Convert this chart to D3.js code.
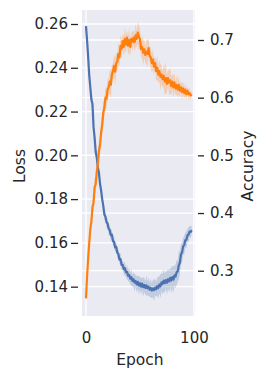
<!DOCTYPE html>
<html>
<head>
<meta charset="utf-8">
<script src="https://cdn.jsdelivr.net/npm/d3@7"></script>
<style>
  body { margin: 0; background: #ffffff; }
  text { font-family: "DejaVu Sans", sans-serif; fill: #262626; }
</style>
</head>
<body>
<div id="chart"></div>
<script>
// mean loss per epoch (0..98)
var loss = [
  0.2590, 0.2525, 0.2450, 0.2365, 0.2310, 0.2255, 0.2235, 0.2130, 0.2080, 0.2015,
  0.1990, 0.1945, 0.1920, 0.1870, 0.1840, 0.1800, 0.1770, 0.1730, 0.1720, 0.1695,
  0.1688, 0.1665, 0.1658, 0.1635, 0.1638, 0.1608, 0.1605, 0.1580, 0.1582, 0.1555,
  0.1550, 0.1524, 0.1526, 0.1500, 0.1500, 0.1480, 0.1484, 0.1466, 0.1468, 0.1450,
  0.1454, 0.1437, 0.1444, 0.1426, 0.1434, 0.1418, 0.1426, 0.1410, 0.1422, 0.1405,
  0.1416, 0.1400, 0.1414, 0.1398, 0.1408, 0.1394, 0.1406, 0.1392, 0.1400, 0.1386,
  0.1394, 0.1382, 0.1392, 0.1384, 0.1396, 0.1388, 0.1402, 0.1394, 0.1410, 0.1402,
  0.1420, 0.1412, 0.1428, 0.1416, 0.1430, 0.1418, 0.1434, 0.1424, 0.1440, 0.1428,
  0.1444, 0.1432, 0.1452, 0.1446, 0.1466, 0.1470, 0.1498, 0.1510, 0.1548, 0.1556,
  0.1584, 0.1590, 0.1612, 0.1614, 0.1634, 0.1638, 0.1652, 0.1650, 0.1658
];

// half width of the loss confidence band
var lossErr = [
  0.0010, 0.0012, 0.0010, 0.0018, 0.0022, 0.0032, 0.0026, 0.0014, 0.0018, 0.0022,
  0.0016, 0.0020, 0.0014, 0.0018, 0.0016, 0.0022, 0.0018, 0.0024, 0.0018, 0.0026,
  0.0020, 0.0028, 0.0018, 0.0026, 0.0022, 0.0018, 0.0028, 0.0022, 0.0018, 0.0026,
  0.0022, 0.0018, 0.0028, 0.0022, 0.0018, 0.0026, 0.0032, 0.0022, 0.0034, 0.0024,
  0.0032, 0.0026, 0.0038, 0.0028, 0.0034, 0.0040, 0.0028, 0.0038, 0.0030, 0.0042,
  0.0030, 0.0038, 0.0028, 0.0044, 0.0034, 0.0030, 0.0046, 0.0034, 0.0042, 0.0032,
  0.0044, 0.0034, 0.0040, 0.0050, 0.0038, 0.0034, 0.0042, 0.0050, 0.0038, 0.0056,
  0.0040, 0.0048, 0.0054, 0.0042, 0.0040, 0.0056, 0.0044, 0.0052, 0.0042, 0.0058,
  0.0052, 0.0060, 0.0044, 0.0054, 0.0058, 0.0046, 0.0064, 0.0052, 0.0048, 0.0044,
  0.0038, 0.0044, 0.0034, 0.0040, 0.0030, 0.0034, 0.0024, 0.0028, 0.0020
];

// mean accuracy per epoch (0..98)
var accuracy = [
  0.252, 0.290, 0.322, 0.348, 0.372, 0.385, 0.410, 0.418, 0.445, 0.450,
  0.472, 0.485, 0.508, 0.518, 0.540, 0.552, 0.574, 0.582, 0.600, 0.598,
  0.614, 0.618, 0.628, 0.622, 0.640, 0.646, 0.655, 0.645, 0.660, 0.662,
  0.676, 0.670, 0.690, 0.684, 0.698, 0.688, 0.702, 0.692, 0.704, 0.690,
  0.700, 0.688, 0.702, 0.697, 0.704, 0.696, 0.708, 0.702, 0.713, 0.705,
  0.702, 0.684, 0.688, 0.678, 0.684, 0.674, 0.680, 0.676, 0.686, 0.672,
  0.670, 0.660, 0.666, 0.654, 0.660, 0.646, 0.652, 0.640, 0.646, 0.636,
  0.640, 0.632, 0.638, 0.628, 0.634, 0.624, 0.634, 0.626, 0.630, 0.620,
  0.628, 0.618, 0.626, 0.616, 0.622, 0.614, 0.622, 0.612, 0.618, 0.610,
  0.616, 0.608, 0.614, 0.606, 0.612, 0.606, 0.608, 0.604, 0.606
];

// half width of the accuracy confidence band
var accErr = [
  0.004, 0.006, 0.009, 0.010, 0.012, 0.010, 0.014, 0.012, 0.016, 0.012,
  0.015, 0.018, 0.013, 0.017, 0.020, 0.015, 0.019, 0.014, 0.020, 0.016,
  0.019, 0.015, 0.021, 0.024, 0.017, 0.014, 0.020, 0.024, 0.017, 0.015,
  0.021, 0.014, 0.019, 0.016, 0.012, 0.018, 0.020, 0.014, 0.012, 0.017,
  0.021, 0.015, 0.012, 0.018, 0.013, 0.016, 0.020, 0.014, 0.019, 0.022,
  0.017, 0.014, 0.020, 0.023, 0.016, 0.014, 0.021, 0.024, 0.016, 0.014,
  0.020, 0.015, 0.019, 0.014, 0.012, 0.017, 0.021, 0.014, 0.019, 0.023,
  0.016, 0.014, 0.020, 0.024, 0.027, 0.016, 0.014, 0.021, 0.024, 0.016,
  0.014, 0.019, 0.015, 0.012, 0.017, 0.013, 0.016, 0.012, 0.010, 0.014,
  0.011, 0.009, 0.012, 0.009, 0.008, 0.010, 0.008, 0.006, 0.006
];

var epochs = d3.range(loss.length);

var lossTicks = [0.14, 0.16, 0.18, 0.20, 0.22, 0.24, 0.26];
var accTicks = [0.3, 0.4, 0.5, 0.6, 0.7];
var epochTicks = [0, 100];

var width = 267, height = 379;
var plot = { left: 82, right: 195, top: 10, bottom: 316 };

var blue = "#4c72b0", orange = "#ff7f0e";

var svg = d3.select("#chart")
  .append("svg")
  .attr("width", width)
  .attr("height", height);

// scales
var x = d3.scaleLinear()
  .domain([-3.7, 101])
  .range([plot.left, plot.right]);

var yLoss = d3.scaleLinear()
  .domain([0.1266, 0.2664])
  .range([plot.bottom, plot.top]);

var yAcc = d3.scaleLinear()
  .domain([0.2215, 0.752])
  .range([plot.bottom, plot.top]);

// background
svg.append("rect")
  .attr("x", plot.left)
  .attr("y", plot.top)
  .attr("width", plot.right - plot.left)
  .attr("height", plot.bottom - plot.top)
  .attr("fill", "#eaeaf2");

// grid lines
var grid = svg.append("g")
  .attr("stroke", "#ffffff")
  .attr("stroke-width", 1.3);

grid.selectAll(".gl")
  .data(lossTicks)
  .enter().append("line")
  .attr("x1", plot.left).attr("x2", plot.right)
  .attr("y1", function (d) { return yLoss(d); })
  .attr("y2", function (d) { return yLoss(d); });

grid.selectAll(".ga")
  .data(accTicks)
  .enter().append("line")
  .attr("x1", plot.left).attr("x2", plot.right)
  .attr("y1", function (d) { return yAcc(d); })
  .attr("y2", function (d) { return yAcc(d); });

grid.selectAll(".gx")
  .data(epochTicks)
  .enter().append("line")
  .attr("y1", plot.top).attr("y2", plot.bottom)
  .attr("x1", function (d) { return x(d); })
  .attr("x2", function (d) { return x(d); });

// confidence band + mean line for one series
function drawSeries(values, errs, yScale, color) {
  var area = d3.area()
    .x(function (d, i) { return x(epochs[i]); })
    .y0(function (d, i) { return yScale(d - errs[i]); })
    .y1(function (d, i) { return yScale(d + errs[i]); });

  var line = d3.line()
    .x(function (d, i) { return x(epochs[i]); })
    .y(function (d) { return yScale(d); });

  svg.append("path")
    .datum(values)
    .attr("d", area)
    .attr("fill", color)
    .attr("fill-opacity", 0.25);

  svg.append("path")
    .datum(values)
    .attr("d", line)
    .attr("fill", "none")
    .attr("stroke", color)
    .attr("stroke-width", 2.2)
    .attr("stroke-linejoin", "round");
}

drawSeries(loss, lossErr, yLoss, blue);
drawSeries(accuracy, accErr, yAcc, orange);

// left axis
var leftAxis = d3.axisLeft(yLoss)
  .tickValues(lossTicks)
  .tickFormat(d3.format(".2f"))
  .tickSize(7)
  .tickPadding(3);

var gl = svg.append("g")
  .attr("transform", "translate(" + (plot.left - 4) + ",0)")
  .call(leftAxis);

// right axis
var rightAxis = d3.axisRight(yAcc)
  .tickValues(accTicks)
  .tickFormat(d3.format(".1f"))
  .tickSize(6)
  .tickPadding(6);

var gr = svg.append("g")
  .attr("transform", "translate(" + (plot.right + 3) + ",0)")
  .call(rightAxis);

// bottom axis, labels only
var bottomAxis = d3.axisBottom(x)
  .tickValues(epochTicks)
  .tickSize(0)
  .tickPadding(10);

var gb = svg.append("g")
  .attr("transform", "translate(0," + (plot.bottom + 6) + ")")
  .call(bottomAxis);

[gl, gr, gb].forEach(function (g) {
  g.select(".domain").remove();
  g.selectAll(".tick line").attr("stroke", "#262626").attr("stroke-width", 1.3);
  g.selectAll(".tick text")
    .attr("fill", "#262626")
    .style("font-size", "15px")
    .style("font-family", "DejaVu Sans, sans-serif");
});

// axis titles
svg.append("text")
  .attr("x", (x(0) + x(100)) / 2)
  .attr("y", 365)
  .attr("text-anchor", "middle")
  .style("font-size", "15.5px")
  .text("Epoch");

svg.append("text")
  .attr("transform", "translate(25,166) rotate(-90)")
  .attr("text-anchor", "middle")
  .style("font-size", "15.5px")
  .text("Loss");

svg.append("text")
  .attr("transform", "translate(253,166) rotate(-90)")
  .attr("text-anchor", "middle")
  .style("font-size", "15.5px")
  .text("Accuracy");
</script>
</body>
</html>
